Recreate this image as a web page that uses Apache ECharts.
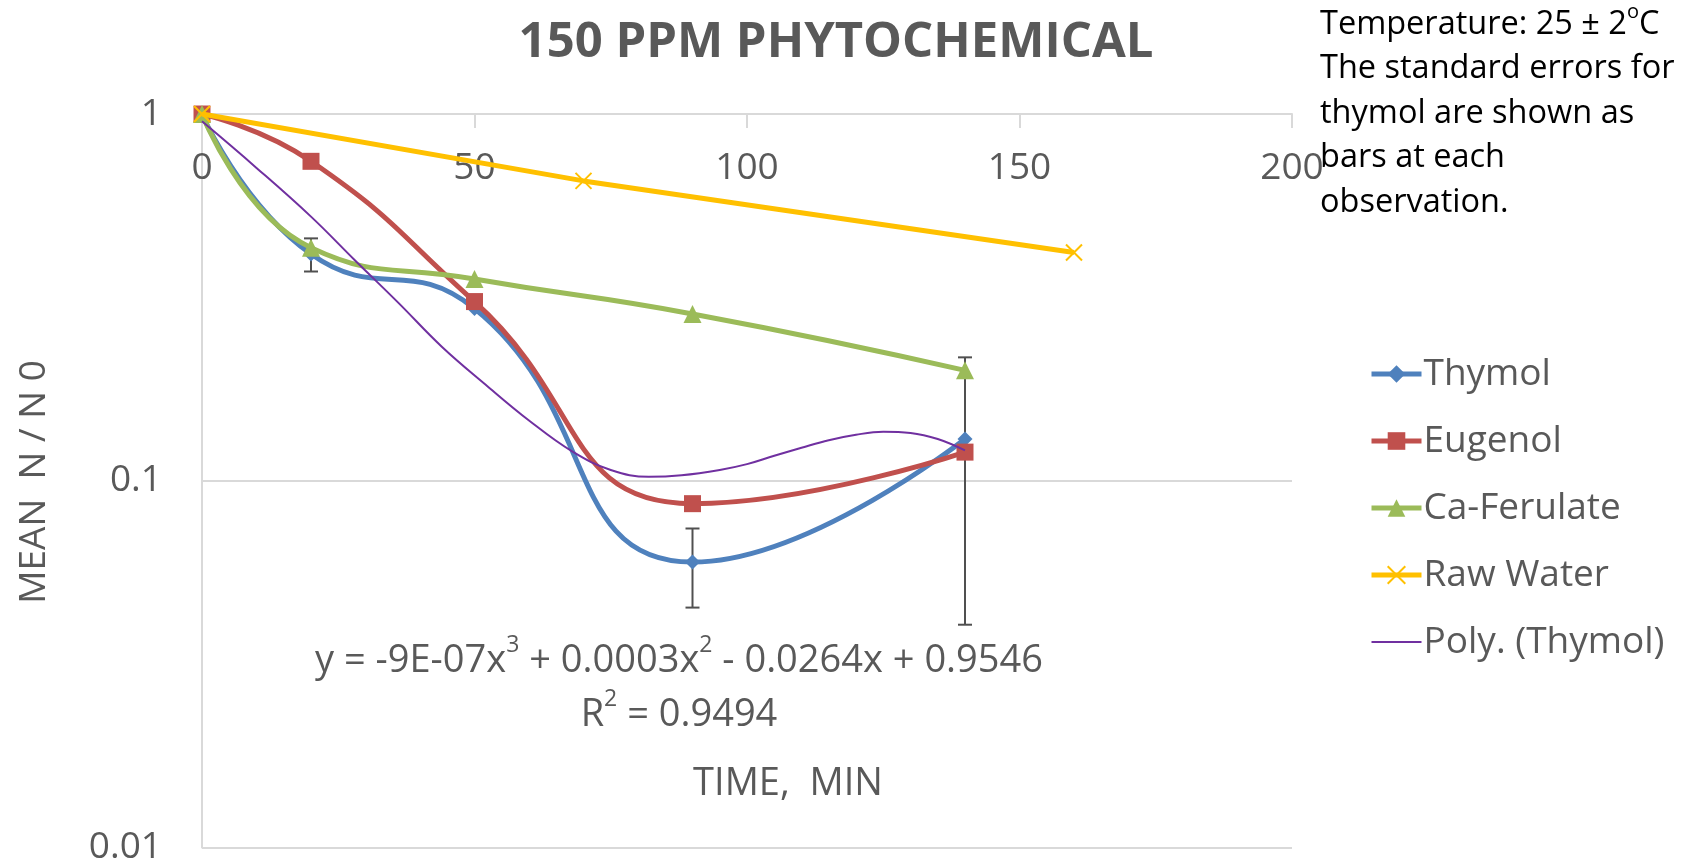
<!DOCTYPE html>
<html>
<head>
<meta charset="utf-8">
<title>150 PPM Phytochemical</title>
<script src="https://cdn.jsdelivr.net/npm/echarts@6/dist/echarts.min.js"></script>
<style>
  html, body { margin: 0; padding: 0; background: #ffffff; }
  #chart { width: 1692px; height: 866px; }
</style>
</head>
<body>
<div id="chart"></div>
<script>
// Survival ratio N/N0 over time for 150 ppm phytochemical treatments
const xTicks = [0, 50, 100, 150, 200];
const yTickLabels = { '-2': '0.01', '-1': '0.1', '0': '1' };

const thymolTime = [0, 20, 50, 90, 140];
const thymolValue = [1, 0.415, 0.295, 0.06, 0.13];

// Standard errors for thymol (lower / upper ends of each bar)
const errTime = [20, 90, 140];
const errLow = [0.372, 0.0451, 0.0405];
const errHigh = [0.458, 0.0741, 0.217];

const eugenolTime = [0, 20, 50, 90, 140];
const eugenolValue = [1, 0.743, 0.308, 0.0866, 0.1197];

const ferulateTime = [0, 20, 50, 90, 140];
const ferulateValue = [1, 0.432, 0.355, 0.285, 0.200];

const rawTime = [0, 70, 160];
const rawValue = [1, 0.657, 0.419];

// Cubic trendline of thymol, sampled along its drawn path
const polyTime = [0, 10, 20, 28, 36, 44, 52, 60, 68, 75, 82, 88, 95, 100, 105, 110, 115, 120, 125, 130, 135, 140];
const polyValue = [0.955, 0.713, 0.525, 0.40, 0.306, 0.232, 0.183, 0.146, 0.120, 0.107, 0.1025, 0.1035, 0.107, 0.111, 0.117, 0.123, 0.129, 0.1335, 0.136, 0.135, 0.130, 0.121];

const seriesNames = ['Thymol', 'Eugenol', 'Ca-Ferulate', 'Raw Water', 'Poly. (Thymol)'];
const seriesColors = ['#4f81bd', '#c0504d', '#9bbb59', '#ffc000', '#7030a0'];
const lineWidths = [5, 5, 5, 5, 2];

const pairs = (xs, ys) => xs.map((x, i) => [x, ys[i]]);

const FONT = '"Open Sans", "Noto Sans", sans-serif';
const GREY = '#595959';
const DIAMOND = 'path://M0,-1L1,0L0,1L-1,0Z';
const CROSS = 'path://M0,0L10,10M10,0L0,10';

const chart = echarts.init(document.getElementById('chart'));

chart.setOption({
  backgroundColor: '#ffffff',
  animation: false,
  textStyle: { fontFamily: FONT },
  grid: { left: 202, top: 114, width: 1090, height: 737 },
  xAxis: {
    type: 'value',
    position: 'top',
    min: xTicks[0],
    max: xTicks[xTicks.length - 1],
    interval: xTicks[1] - xTicks[0],
    axisLine: { show: true, onZero: false, lineStyle: { color: '#d9d9d9', width: 2 } },
    axisTick: { show: true, inside: true, length: 14, lineStyle: { color: '#d9d9d9', width: 2 } },
    axisLabel: { inside: true, margin: 36, color: GREY, fontSize: 37, fontFamily: FONT },
    splitLine: { show: false }
  },
  yAxis: {
    type: 'log',
    logBase: 10,
    min: 0.01,
    max: 1,
    axisLine: { show: true, lineStyle: { color: '#d9d9d9', width: 2 } },
    axisTick: { show: false },
    axisLabel: {
      margin: 40, color: GREY, fontSize: 37, fontFamily: FONT,
      formatter: v => yTickLabels[String(Math.round(Math.log10(v)))] || ''
    },
    splitLine: { show: true, lineStyle: { color: '#d9d9d9', width: 2 } }
  },
  legend: {
    data: seriesNames.map((name, i) => ({
      name,
      lineStyle: { color: seriesColors[i], width: lineWidths[i] },
      itemStyle: i === 4 ? { opacity: 0 } : { color: seriesColors[i] }
    })),
    orient: 'vertical',
    left: 1364,
    top: 349,
    itemWidth: 50,
    itemHeight: 22,
    itemGap: 27,
    textStyle: { color: GREY, fontSize: 37, fontFamily: FONT, lineHeight: 40, padding: [0, 0, 0, -3] }
  },
  series: [
    {
      name: 'Thymol error',
      type: 'custom',
      z: 2,
      silent: true,
      data: errTime.map((t, i) => [t, errLow[i], errHigh[i]]),
      renderItem: (params, api) => {
        const lo = api.coord([api.value(0), api.value(1)]);
        const hi = api.coord([api.value(0), api.value(2)]);
        const cap = 7;
        const style = { stroke: '#505050', lineWidth: 2 };
        return {
          type: 'group',
          children: [
            { type: 'line', shape: { x1: lo[0], y1: lo[1], x2: hi[0], y2: hi[1] }, style },
            { type: 'line', shape: { x1: lo[0] - cap, y1: lo[1], x2: lo[0] + cap, y2: lo[1] }, style },
            { type: 'line', shape: { x1: hi[0] - cap, y1: hi[1], x2: hi[0] + cap, y2: hi[1] }, style }
          ]
        };
      }
    },
    {
      name: 'Thymol',
      type: 'line',
      z: 3,
      smooth: 0.5,
      data: pairs(thymolTime, thymolValue),
      symbol: DIAMOND,
      symbolSize: 15,
      lineStyle: { color: seriesColors[0], width: lineWidths[0] },
      itemStyle: { color: seriesColors[0] }
    },
    {
      name: 'Eugenol',
      type: 'line',
      z: 4,
      smooth: 0.5,
      data: pairs(eugenolTime, eugenolValue),
      symbol: 'rect',
      symbolSize: 17,
      lineStyle: { color: seriesColors[1], width: lineWidths[1] },
      itemStyle: { color: seriesColors[1] }
    },
    {
      name: 'Ca-Ferulate',
      type: 'line',
      z: 5,
      smooth: 0.5,
      data: pairs(ferulateTime, ferulateValue),
      symbol: 'triangle',
      symbolSize: 18,
      lineStyle: { color: seriesColors[2], width: lineWidths[2] },
      itemStyle: { color: seriesColors[2] }
    },
    {
      name: 'Raw Water',
      type: 'line',
      z: 6,
      data: pairs(rawTime, rawValue),
      symbol: CROSS,
      symbolSize: 16,
      lineStyle: { color: seriesColors[3], width: lineWidths[3] },
      itemStyle: { color: seriesColors[3], borderColor: seriesColors[3], borderWidth: 2 }
    },
    {
      name: 'Poly. (Thymol)',
      type: 'line',
      z: 7,
      smooth: 0.4,
      data: pairs(polyTime, polyValue),
      symbol: 'none',
      lineStyle: { color: seriesColors[4], width: lineWidths[4] },
      itemStyle: { color: seriesColors[4] }
    }
  ],
  graphic: [
    {
      type: 'text',
      style: {
        text: '150 PPM PHYTOCHEMICAL',
        x: 836, y: 43, align: 'center', verticalAlign: 'middle',
        fill: GREY, font: 'bold 49px ' + FONT
      }
    },
    {
      type: 'text',
      rotation: Math.PI / 2,
      x: 34, y: 482,
      style: {
        text: 'MEAN  N / N 0',
        x: 0, y: 0, align: 'center', verticalAlign: 'middle',
        fill: GREY, font: '37px ' + FONT
      }
    },
    {
      type: 'text',
      style: {
        text: 'TIME,  MIN',
        x: 788, y: 784, align: 'center', verticalAlign: 'middle',
        fill: GREY, font: '38px ' + FONT
      }
    },
    {
      type: 'text',
      style: {
        text: 'y = -9E-07x{sup|3} + 0.0003x{sup|2} - 0.0264x + 0.9546\nR{sup|2} = 0.9494',
        x: 679, y: 688, align: 'center', verticalAlign: 'middle',
        fill: GREY, fontSize: 38, fontFamily: FONT, lineHeight: 54,
        rich: {
          sup: { fontSize: 23, fontFamily: FONT, fill: GREY, verticalAlign: 'top', lineHeight: 44 }
        }
      }
    },
    {
      type: 'text',
      style: {
        text: 'Temperature: 25 ± 2{sup|o}C\nThe standard errors for\nthymol are shown as\nbars at each\nobservation.',
        x: 1320, y: 2, align: 'left', verticalAlign: 'top',
        fill: '#000000', fontSize: 32.5, fontFamily: FONT, lineHeight: 44.5,
        rich: {
          sup: { fontSize: 20, fontFamily: FONT, fill: '#000000', verticalAlign: 'top', lineHeight: 36 }
        }
      }
    }
  ]
});
</script>
</body>
</html>
